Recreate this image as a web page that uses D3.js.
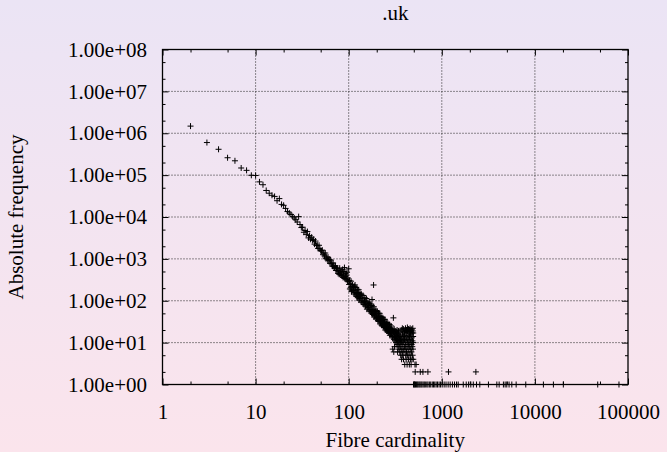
<!DOCTYPE html>
<html><head><meta charset="utf-8">
<script src="https://cdn.jsdelivr.net/npm/d3@7"></script>
<style>html,body{margin:0;padding:0;overflow:hidden;background:#fff}svg{display:block}</style>
</head><body>
<svg id="chart" width="667" height="452"></svg>
<script>
const chartTitle = ".uk";
const xTitle = "Fibre cardinality";
const yTitle = "Absolute frequency";
const xTickValues = [1, 10, 100, 1000, 10000, 100000];
const xTickLabels = ["1", "10", "100", "1000", "10000", "100000"];
const xMinorTicks = [2, 5, 20, 50, 200, 500, 2000, 5000, 20000, 50000];
const yTickValues = [1, 10, 100, 1000, 10000, 100000, 1000000, 10000000, 100000000];
const yTickLabels = ["1.00e+00", "1.00e+01", "1.00e+02", "1.00e+03", "1.00e+04", "1.00e+05", "1.00e+06", "1.00e+07", "1.00e+08"];
const yMinorTicks = [2, 5, 20, 50, 200, 500, 2000, 5000, 2e4, 5e4, 2e5, 5e5, 2e6, 5e6, 2e7, 5e7];

// [fibre cardinality, absolute frequency]
const headPoints = [[2,1480000],[3,600000],[4,414000],[5,260000],[6,220000],[7,148000],[8,130000],[9,99000],[10,98000],[11,69000],[12,59000],[13,43000],[14,37000],[15,33000],[16,31000],[17,24500],[18,27500],[19,20000],[20,19000],[21,16000],[22,13500],[23,12500],[24,11500],[25,10200],[26,9500],[27,8600],[28,7600],[29,10200],[30,6600]];
const upperBand = [[31,5600],[32,5710],[33,4320],[34,4770],[35,3850],[36,4490],[37,3170],[38,3600],[39,2940],[40,3300],[41,2760],[42,2920],[43,2250],[44,2660],[45,2090],[46,2130],[47,1770],[48,2110],[49,1720],[50,1580],[51,1550],[52,1620],[53,1260],[54,1380],[55,1175],[56,1380],[57,1010],[58,1110],[59,950],[60,1100],[61,920],[62,970],[63,780],[64,940],[65,760],[66,790],[67,670],[68,800],[69,665],[70,605],[71,630],[72,680],[73,530],[74,605],[75,525],[76,600],[77,450],[78,495],[79,430],[80,600],[81,430],[82,470],[83,520],[84,400],[85,390],[86,560],[87,360],[88,430],[89,500],[90,620],[91,340],[92,380],[93,450],[94,320],[95,410],[96,480],[97,300],[98,350],[99,290],[100,580]];
const middleBand = [[101,245],[102,306],[103,191],[104,255],[105,204],[106,293],[107,165],[108,217],[109,178],[110,238],[112,180],[113,213],[114,145],[115,221],[116,156],[117,238],[118,179],[119,138],[120,207],[121,151],[122,127],[123,150],[124,188],[125,118],[126,158],[127,127],[128,183],[129,104],[130,137],[131,113],[132,151],[133,117],[134,139],[136,93],[137,143],[139,99],[140,117],[142,89],[143,133],[145,96],[146,81],[148,94],[149,118],[151,74],[152,99],[154,78],[155,113],[157,63],[158,84],[160,68],[161,92],[163,70],[164,84],[166,57],[167,87],[169,61],[170,72],[172,55],[173,83],[175,60],[176,51],[177,77],[178,107],[179,59],[181,47],[182,63],[184,50],[185,238],[186,72],[187,41],[188,54],[190,44],[191,60],[193,46],[194,55],[196,37],[197,58],[199,40],[200,48],[202,37],[203,56],[205,40],[206,34],[208,40],[209,51],[211,32],[212,43],[214,35],[215,50],[217,28],[218,38],[220,31],[221,42],[223,32],[224,38],[226,26],[227,40],[229,28],[230,34],[232,26],[233,39],[235,29],[236,24],[238,29],[239,36],[241,23],[242,31],[244,25],[245,36],[247,20],[248,27],[250,22],[251,30],[253,23],[254,28],[256,19],[257,30],[259,21],[260,25],[262,19],[263,29],[265,21],[266,18],[268,21],[269,27],[271,17],[272,23],[274,19],[275,27],[277,15],[278,20],[280,17]];
const lowerBand = [[282,22],[284,18],[286,25],[288,16],[290,21],[292,14],[294,19],[296,13],[297,7],[298,20],[300,15],[302,39],[304,18],[305,6],[306,12],[308,21],[310,14],[311,8],[312,17],[314,11],[316,19],[318,13],[320,16],[322,10],[324,18],[326,12],[328,15],[330,9],[331,20],[332,17],[334,11],[335,6],[336,14],[338,8],[340,16],[342,10],[343,19],[344,13],[346,7],[348,15],[350,9],[352,12],[354,6],[356,14],[357,18],[358,8],[360,11],[362,5],[364,13],[366,7],[367,20],[368,10],[370,4],[372,12],[374,6],[376,9],[377,22],[378,16],[380,5],[382,11],[384,7],[386,14],[387,21],[388,4],[390,10],[392,6],[394,18],[396,8],[397,17],[398,12],[400,3],[402,15],[404,7],[406,9],[407,22],[408,20],[410,5],[412,11],[414,4],[416,13],[417,20],[418,6],[420,17],[422,8],[424,3],[426,10],[427,23],[428,19],[430,5],[432,12],[434,7],[436,15],[437,21],[438,4],[440,9],[442,21],[444,6],[446,11],[447,19],[448,3],[450,14],[452,8],[454,18],[456,5],[457,22],[458,10],[460,4],[462,16],[464,7],[466,12],[467,18],[468,3],[470,20],[472,6],[474,9],[476,13],[477,21],[478,4],[480,17],[482,8],[484,11],[486,5],[487,19],[488,22],[490,7],[492,14],[493,17],[494,4],[496,10],[515,3],[530,3]];
const tailPoints = [[518,2],[587,2],[627,2],[709,2],[1180,2],[2323,2],[497,1],[505,1],[512,1],[522,1],[534,1],[545,1],[556,1],[570,1],[583,1],[598,1],[612,1],[630,1],[648,1],[665,1],[690,1],[710,1],[735,1],[760,1],[790,1],[815,1],[840,1],[870,1],[900,1],[935,1],[970,1],[1010,1],[1060,1],[1110,1],[1170,1],[1230,1],[1300,1],[1370,1],[1440,1],[1500,1],[1700,1],[1830,1],[1940,1],[2050,1],[2180,1],[2360,1],[2560,1],[3170,1],[3900,1],[4130,1],[4590,1],[4790,1],[4990,1],[5280,1],[5650,1],[6290,1],[7980,1],[12340,1],[15800,1],[20200,1],[47300,1],[80000,1]];

const points = [].concat(headPoints, upperBand, middleBand, lowerBand, tailPoints);

const W = 667, H = 452;
const L = 162.5, R = 628, T = 49.5, B = 384.5;
const FONT = "Liberation Serif, Times New Roman, Times, serif";

const svg = d3.select("#chart");
const defs = svg.append("defs");
const grad = defs.append("linearGradient").attr("id", "bg").attr("x1", 0).attr("y1", 0).attr("x2", 0).attr("y2", 1);
grad.append("stop").attr("offset", "0%").attr("stop-color", "#ebe4f5");
grad.append("stop").attr("offset", "100%").attr("stop-color", "#fbe4ec");
svg.append("rect").attr("width", W).attr("height", H).attr("fill", "url(#bg)");

const x = d3.scaleLog().domain([1, 100000]).range([L, R]);
const y = d3.scaleLog().domain([1, 1e8]).range([B, T]);

// grid
const g = svg.append("g");
g.selectAll(".gx").data(xTickValues.slice(1, -1)).join("line")
  .attr("x1", d => x(d)).attr("x2", d => x(d)).attr("y1", T).attr("y2", B)
  .attr("stroke", "#222").attr("stroke-width", 1).attr("stroke-dasharray", "1,2");
g.selectAll(".gy").data(yTickValues.slice(1, -1)).join("line")
  .attr("y1", d => y(d)).attr("y2", d => y(d)).attr("x1", L).attr("x2", R)
  .attr("stroke", "#222").attr("stroke-width", 1).attr("stroke-dasharray", "1,2");

function styleAxis(sel) {
  sel.attr("font-family", FONT);
  sel.select(".domain").remove();
  sel.selectAll(".tick line").attr("stroke", "#000").attr("stroke-width", 1);
  sel.selectAll(".tick text").attr("fill", "#000").attr("font-family", FONT).attr("font-size", 21);
}

// bottom
svg.append("g").attr("transform", `translate(0,${B})`)
  .call(d3.axisBottom(x).tickValues(xTickValues).tickSizeInner(-6).tickSizeOuter(0).tickPadding(19.5)
    .tickFormat((d, i) => xTickLabels[i])).call(styleAxis);
svg.append("g").attr("transform", `translate(0,${B})`)
  .call(d3.axisBottom(x).tickValues(xMinorTicks).tickSizeInner(-3).tickSizeOuter(0).tickFormat("")).call(styleAxis);
// top
svg.append("g").attr("transform", `translate(0,${T})`)
  .call(d3.axisTop(x).tickValues(xTickValues).tickSizeInner(-6).tickSizeOuter(0).tickFormat("")).call(styleAxis);
svg.append("g").attr("transform", `translate(0,${T})`)
  .call(d3.axisTop(x).tickValues(xMinorTicks).tickSizeInner(-3).tickSizeOuter(0).tickFormat("")).call(styleAxis);
// left
svg.append("g").attr("transform", `translate(${L},0)`)
  .call(d3.axisLeft(y).tickValues(yTickValues).tickSizeInner(-6).tickSizeOuter(0).tickPadding(15.5)
    .tickFormat((d, i) => yTickLabels[i])).call(styleAxis);
svg.append("g").attr("transform", `translate(${L},0)`)
  .call(d3.axisLeft(y).tickValues(yMinorTicks).tickSizeInner(-3).tickSizeOuter(0).tickFormat("")).call(styleAxis);
// right
svg.append("g").attr("transform", `translate(${R},0)`)
  .call(d3.axisRight(y).tickValues(yTickValues).tickSizeInner(-6).tickSizeOuter(0).tickFormat("")).call(styleAxis);
svg.append("g").attr("transform", `translate(${R},0)`)
  .call(d3.axisRight(y).tickValues(yMinorTicks).tickSizeInner(-3).tickSizeOuter(0).tickFormat("")).call(styleAxis);

// frame
svg.append("rect").attr("x", L).attr("y", T).attr("width", R - L).attr("height", B - T)
  .attr("fill", "none").attr("stroke", "#000").attr("stroke-width", 1.3);

// points
svg.append("g").selectAll("path").data(points).join("path")
  .attr("transform", d => `translate(${x(d[0])},${y(d[1])})`)
  .attr("d", "M-3,0H3M0,-3V3")
  .attr("stroke", "#000").attr("stroke-width", 1).attr("fill", "none");

// titles
svg.append("text").attr("x", (L + R) / 2).attr("y", 20).attr("text-anchor", "middle")
  .attr("font-family", FONT).attr("font-size", 21).attr("fill", "#000").text(chartTitle);
svg.append("text").attr("x", (L + R) / 2).attr("y", 447).attr("text-anchor", "middle")
  .attr("font-family", FONT).attr("font-size", 21).attr("fill", "#000").text(xTitle);
svg.append("text").attr("transform", `translate(23,${(T + B) / 2}) rotate(-90)`).attr("text-anchor", "middle")
  .attr("font-family", FONT).attr("font-size", 21).attr("fill", "#000").text(yTitle);
</script>
</body></html>
